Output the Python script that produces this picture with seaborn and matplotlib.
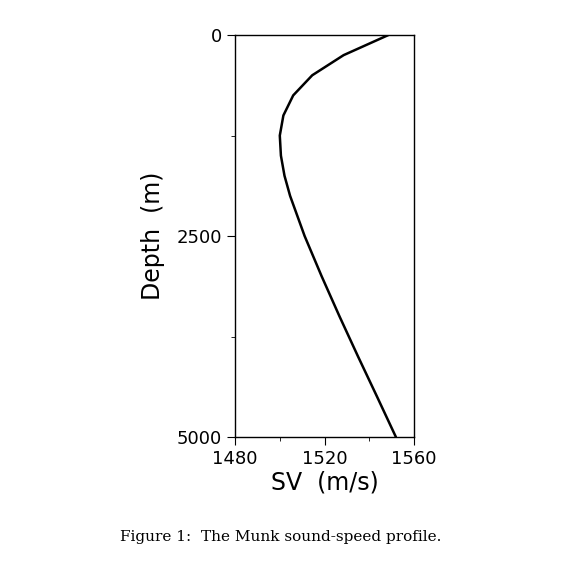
import matplotlib
matplotlib.use('Agg')
import matplotlib.pyplot as plt
import seaborn as sns
import pandas as pd
from matplotlib.ticker import MultipleLocator

depth = [0, 250, 500, 750, 1000, 1250, 1500, 1750, 2000, 2500, 3000, 3500, 4000, 4500, 5000]
sv = [1548.5, 1528.5, 1514.5, 1506.0, 1501.6, 1500.0, 1500.5, 1502.1, 1504.6,
      1511.1, 1518.7, 1526.7, 1535.0, 1543.5, 1551.9]

df = pd.DataFrame({'depth': depth, 'sv': sv})

sns.set_style('white')
plt.rcParams['font.family'] = ['DejaVu Sans']
plt.rcParams['text.color'] = 'black'
plt.rcParams['axes.labelcolor'] = 'black'
plt.rcParams['xtick.color'] = 'black'
plt.rcParams['ytick.color'] = 'black'

fig = plt.figure(figsize=(5.61, 5.75), dpi=100)
ax = fig.add_axes([0.419, 0.240, 0.319, 0.699])
sns.lineplot(data=df, x='sv', y='depth', sort=False, estimator=None, orient='y',
             color='black', linewidth=1.8, ax=ax)

ax.set_xlim(1480, 1560)
ax.set_ylim(5000, 0)
ax.set_xticks([1480, 1520, 1560])
ax.set_yticks([0, 2500, 5000])
ax.xaxis.set_minor_locator(MultipleLocator(20))
ax.yaxis.set_minor_locator(MultipleLocator(1250))
ax.tick_params(which='both', direction='out', labelsize=13, left=True, bottom=True)
ax.tick_params(which='major', length=6)
ax.tick_params(which='minor', length=3)
for s in ax.spines.values():
    s.set_color('black')
    s.set_linewidth(1.0)
ax.set_xlabel('SV  (m/s)', fontsize=17, labelpad=2)
ax.set_ylabel('Depth  (m)', fontsize=17, labelpad=8)

fig.text(0.5, 0.06, 'Figure 1:  The Munk sound-speed profile.', ha='center',
         fontsize=11, family='DejaVu Serif')
fig.savefig('out.png', dpi=100)
